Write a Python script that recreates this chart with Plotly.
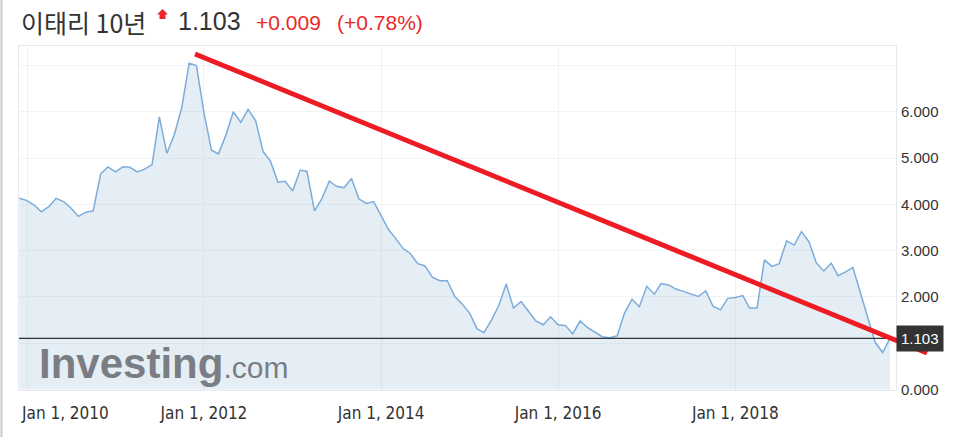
import pandas as pd
import plotly.graph_objects as go

# ---- data (monthly closes, Italy 10Y yield) ----
start_month = "2009-12-01"
yields = [
    4.13, 4.08, 3.98, 3.84, 3.95, 4.13, 4.06, 3.92, 3.74, 3.83,
    3.86, 4.66, 4.81, 4.70, 4.81, 4.80, 4.70, 4.76, 4.86, 5.89,
    5.10, 5.51, 6.08, 7.05, 7.00, 5.98, 5.17, 5.09, 5.50, 6.00,
    5.77, 6.05, 5.81, 5.14, 4.94, 4.48, 4.50, 4.29, 4.74, 4.71,
    3.86, 4.12, 4.50, 4.39, 4.36, 4.56, 4.12, 4.02, 4.06, 3.75,
    3.45, 3.27, 3.05, 2.94, 2.72, 2.67, 2.42, 2.35, 2.35, 2.01,
    1.85, 1.65, 1.31, 1.23, 1.50, 1.81, 2.28, 1.76, 1.90, 1.69,
    1.48, 1.40, 1.57, 1.40, 1.38, 1.20, 1.48, 1.34, 1.24, 1.14,
    1.12, 1.16, 1.65, 1.95, 1.79, 2.23, 2.06, 2.29, 2.26, 2.17,
    2.12, 2.06, 2.01, 2.13, 1.80, 1.72, 1.97, 1.99, 2.03, 1.76,
    1.76, 2.80, 2.66, 2.72, 3.21, 3.12, 3.41, 3.19, 2.74, 2.56,
    2.73, 2.46, 2.54, 2.64, 2.10, 1.55, 1.02, 0.80, 1.103,
]
dates = pd.date_range(start_month, periods=len(yields), freq="MS")

x_tick_dates = ["2010-01-01", "2012-01-01", "2014-01-01", "2016-01-01", "2018-01-01"]
x_tick_labels = ["Jan 1, 2010", "Jan 1, 2012", "Jan 1, 2014", "Jan 1, 2016", "Jan 1, 2018"]
y_tick_vals = [0, 1, 2, 3, 4, 5, 6, 7]
y_tick_labels = ["0.000", "", "2.000", "3.000", "4.000", "5.000", "6.000", ""]

title_name = "이태리 10년"
last_price = "1.103"
change_abs = "+0.009"
change_pct = "(+0.78%)"

# ---- layout geometry (window pixel coordinates) ----
W, H = 970, 447
ML, MR, MT, MB = 19, 74, 46, 57
PW, PH = W - ML - MR, H - MT - MB


def px(x):
    return (x - ML) / PW


def py(y):
    return (H - MB - y) / PH


XFONT = "DejaVu Sans Condensed, Liberation Sans, Arial"

fig = go.Figure()
fig.add_trace(go.Scatter(
    x=dates, y=yields, mode="lines",
    line=dict(color="rgb(124,172,218)", width=1.5),
    fill="tozeroy", fillcolor="rgba(150,185,215,0.25)",
    hoverinfo="skip", showlegend=False,
))

shapes = [
    # last price line
    dict(type="line", xref="paper", yref="y", x0=0, x1=1,
         y0=yields[-1], y1=yields[-1], line=dict(color="#333333", width=1.2)),
    # red hand-drawn trend line
    dict(type="line", xref="paper", yref="paper",
         x0=px(195), y0=py(54), x1=px(927), y1=py(353),
         line=dict(color="rgb(237,28,36)", width=5)),
    # left page border
    dict(type="line", xref="paper", yref="paper",
         x0=px(1.5), x1=px(1.5), y0=py(0), y1=py(437),
         line=dict(color="#c8c8c8", width=2)),
    # red up arrow icon
    dict(type="path", xref="paper", yref="paper",
         path=(f"M {px(162.5)} {py(9)} L {px(168)} {py(14.5)} L {px(165.5)} {py(14.5)} "
               f"L {px(165.5)} {py(19)} L {px(159.5)} {py(19)} L {px(159.5)} {py(14.5)} "
               f"L {px(157)} {py(14.5)} Z"),
         fillcolor="rgb(237,40,40)", line=dict(width=0)),
]

annotations = [
    dict(text=title_name, xref="paper", yref="paper", x=px(19), y=py(22),
         xanchor="left", yanchor="middle", showarrow=False,
         font=dict(family="Noto Sans CJK KR", size=25, color="#333333")),
    dict(text=last_price, xref="paper", yref="paper", x=px(176), y=py(21),
         xanchor="left", yanchor="middle", showarrow=False,
         font=dict(family="Liberation Sans, Arial", size=25, color="#333333")),
    dict(text=change_abs, xref="paper", yref="paper", x=px(254), y=py(22),
         xanchor="left", yanchor="middle", showarrow=False,
         font=dict(family="Liberation Sans, Arial", size=21, color="rgb(235,40,40)")),
    dict(text=change_pct, xref="paper", yref="paper", x=px(335), y=py(22),
         xanchor="left", yanchor="middle", showarrow=False,
         font=dict(family="Liberation Sans, Arial", size=21, color="rgb(235,40,40)")),
    # last price tag on the axis
    dict(text=last_price, xref="paper", yref="y", x=1, y=yields[-1],
         xanchor="left", yanchor="middle", showarrow=False,
         bgcolor="#333333", borderpad=4,
         font=dict(family="Liberation Sans, Arial", size=15, color="white")),
    # first x label, left aligned at plot edge
    dict(text=x_tick_labels[0], xref="paper", yref="paper", x=0, y=py(413),
         xanchor="left", yanchor="middle", showarrow=False,
         font=dict(family=XFONT, size=17, color="#333333")),
    # watermark
    dict(text="<b>Investing</b><span style='font-size:30px'>.com</span>",
         xref="paper", yref="paper", x=px(37), y=py(363),
         xanchor="left", yanchor="middle", showarrow=False,
         font=dict(family="Liberation Sans, Arial", size=42, color="rgb(122,126,132)")),
]

fig.update_layout(
    width=W, height=H,
    margin=dict(l=ML, r=MR, t=MT, b=MB, autoexpand=False),
    paper_bgcolor="white", plot_bgcolor="white",
    shapes=shapes, annotations=annotations,
    xaxis=dict(
        type="date", range=["2009-11-29", "2019-10-26"],
        tickvals=x_tick_dates, ticktext=[""] + x_tick_labels[1:],
        showgrid=True, gridcolor="#eef2f6", gridwidth=1,
        showline=True, linecolor="#e3e9ef", mirror=True,
        ticks="", ticklabelstandoff=8, zeroline=False,
        tickfont=dict(family=XFONT, size=17, color="#333333"),
    ),
    yaxis=dict(
        side="right", range=[-0.01, 7.42],
        tickvals=y_tick_vals, ticktext=y_tick_labels,
        showgrid=True, gridcolor="#f1f4f7", gridwidth=1,
        showline=True, linecolor="#e3e9ef", mirror=True,
        ticks="", ticklabelstandoff=1, zeroline=False,
        tickfont=dict(family="Liberation Sans, Arial", size=15, color="#333333"),
    ),
)

fig.write_html("out.html", config={"displayModeBar": False},
               post_script="document.body.style.margin='0';")
